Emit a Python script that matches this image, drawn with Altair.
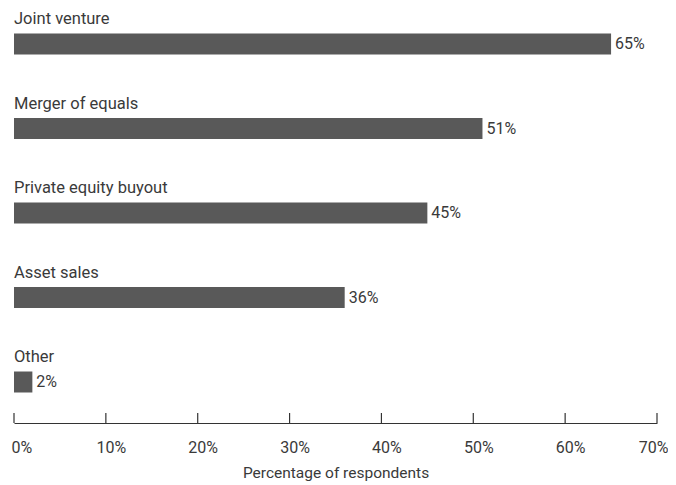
import altair as alt
import pandas as pd

categories = ["Joint venture", "Merger of equals", "Private equity buyout", "Asset sales", "Other"]
values = [65, 51, 45, 36, 2]
tick_values = [0, 10, 20, 30, 40, 50, 60, 70]

df = pd.DataFrame({"cat": categories, "val": values,
                   "lbl": [f"{v}%" for v in values]})
ticks = pd.DataFrame({"t": tick_values})

FONT = "Roboto"
TXT = "#3a3a3a"
H = 415
W = 643

xscale = alt.Scale(domain=[0, 70], nice=False, zero=True)
yscale = alt.Scale(domain=categories, range=[-6.25, 416.25], paddingInner=0, paddingOuter=0)

label_align = {"condition": [{"test": "datum.value == 0", "value": "left"},
                             {"test": "datum.value == 70", "value": "right"}],
               "value": "center"}
label_offset = {"condition": [{"test": "datum.value == 0", "value": -3},
                              {"test": "datum.value == 70", "value": 11}],
                "value": 5}

bars = alt.Chart(df).mark_bar(color="#595959", size=21).encode(
    x=alt.X("val:Q", scale=xscale,
            axis=alt.Axis(title="Percentage of respondents", values=tick_values,
                          labelExpr="datum.value + '%'", tickSize=0, grid=False,
                          domainColor="#333333", domainWidth=1.2,
                          labelPadding=16, labelFont=FONT, labelFontSize=16,
                          labelColor=TXT, labelFlush=False,
                          labelAlign=label_align, labelOffset=label_offset,
                          titleFont=FONT, titleFontSize=15.5, titleFontWeight="normal",
                          titleColor=TXT, titlePadding=10)),
    y=alt.Y("cat:N", scale=yscale, axis=None, sort=categories),
)

names = alt.Chart(df).mark_text(align="left", baseline="middle", dy=-25, font=FONT,
                                fontSize=16.5, color=TXT).encode(
    x=alt.value(0),
    y=alt.Y("cat:N", scale=yscale, axis=None, sort=categories),
    text="cat:N",
)

vals = alt.Chart(df).mark_text(align="left", baseline="middle", dx=4, font=FONT,
                               fontSize=16, color=TXT).encode(
    x=alt.X("val:Q", scale=xscale),
    y=alt.Y("cat:N", scale=yscale, axis=None, sort=categories),
    text="lbl:N",
)

tick_rules = alt.Chart(ticks).mark_rule(color="#333333", strokeWidth=1.2).encode(
    x=alt.X("t:Q", scale=xscale),
    y=alt.value(H - 10),
    y2=alt.value(H),
)

chart = alt.layer(bars, names, vals, tick_rules).properties(
    width=W, height=H,
    background="white",
    autosize=alt.AutoSizeParams(type="none"),
    padding={"left": 6, "top": 0, "right": 11, "bottom": 62},
).configure_view(stroke=None)

chart.save("out.html", embed_options={"renderer": "svg", "actions": False})
